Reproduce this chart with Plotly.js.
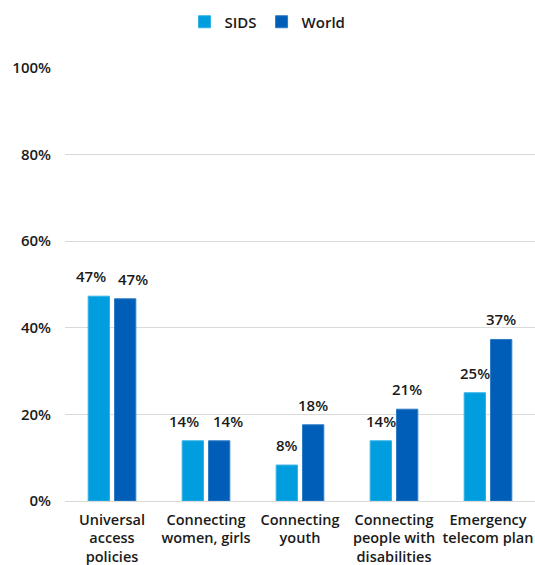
<!DOCTYPE html>
<html>
<head>
<meta charset="utf-8">
<script src="https://cdn.plot.ly/plotly-3.0.1.min.js"></script>
<style>html,body{margin:0;padding:0;background:#fff;}#chart{width:535px;height:565px;}</style>
</head>
<body>
<div id="chart"></div>
<script>
const categories = [
  "Universal<br>access<br>policies",
  "Connecting<br>women, girls",
  "Connecting<br>youth",
  "Connecting<br>people with<br>disabilities",
  "Emergency<br>telecom plan"
];
const sidsValues = [47.3, 13.9, 8.3, 13.9, 25.0];
const worldValues = [46.7, 13.9, 17.6, 21.2, 37.3];
const sidsLabels = ["47%", "14%", "8%", "14%", "25%"];
const worldLabels = ["47%", "14%", "18%", "21%", "37%"];
const yTickVals = [0, 20, 40, 60, 80, 100];
const yTickText = ["0%", "20%", "40%", "60%", "80%", "100%"];

// label spreading (style only): extra horizontal nudge for crowded groups
const labelNudge = [8, 9, 0, 0, 0];

const FONT = "'Open Sans', Lato, sans-serif";
const TXT = "#1a1a1a";
const W = 600;
const FS = 15;

const traces = [
  {type: "bar", name: "SIDS", x: categories, y: sidsValues,
   marker: {color: "#009EDE", line: {color: "#33B2E6", width: 1}}},
  {type: "bar", name: "World", x: categories, y: worldValues,
   marker: {color: "#005EB8", line: {color: "#2F7CC6", width: 1}}}
];

const annotations = [];
[[sidsValues, sidsLabels, -13, -1], [worldValues, worldLabels, 13, 1]].forEach(([vals, labs, dx, sgn]) => {
  vals.forEach((v, i) => {
    annotations.push({x: categories[i], y: v, text: labs[i], showarrow: false,
      xshift: dx + sgn * labelNudge[i], yshift: 8, yanchor: "bottom",
      font: {family: FONT, size: FS, color: TXT, weight: W}});
  });
});

const layout = {
  width: 535, height: 565,
  margin: {l: 65, r: 0, t: 68, b: 64},
  paper_bgcolor: "#fff", plot_bgcolor: "#fff",
  font: {family: FONT, size: FS, color: TXT, weight: W},
  barmode: "group", bargap: 0.44, bargroupgap: 0.19,
  showlegend: true,
  legend: {orientation: "h", xref: "container", yref: "container",
    x: 0.5, xanchor: "center", y: 1 - 22/565, yanchor: "middle",
    font: {family: FONT, size: FS, color: TXT, weight: W},
    itemwidth: 30, traceorder: "normal"},
  xaxis: {tickfont: {family: FONT, size: 14.5, color: TXT, weight: W},
    showline: false, ticks: "", automargin: false, ticklabelstandoff: 8},
  yaxis: {range: [0, 100], tickvals: yTickVals, ticktext: yTickText,
    showgrid: true, gridcolor: "#d9d9d9", gridwidth: 1,
    zeroline: true, zerolinecolor: "#d9d9d9", zerolinewidth: 1,
    showline: false, ticks: "", ticklabelstandoff: 13, automargin: false,
    tickfont: {family: FONT, size: FS, color: TXT, weight: W}},
  annotations: annotations
};

Plotly.newPlot("chart", traces, layout, {displayModeBar: false, staticPlot: true});
</script>
</body>
</html>
